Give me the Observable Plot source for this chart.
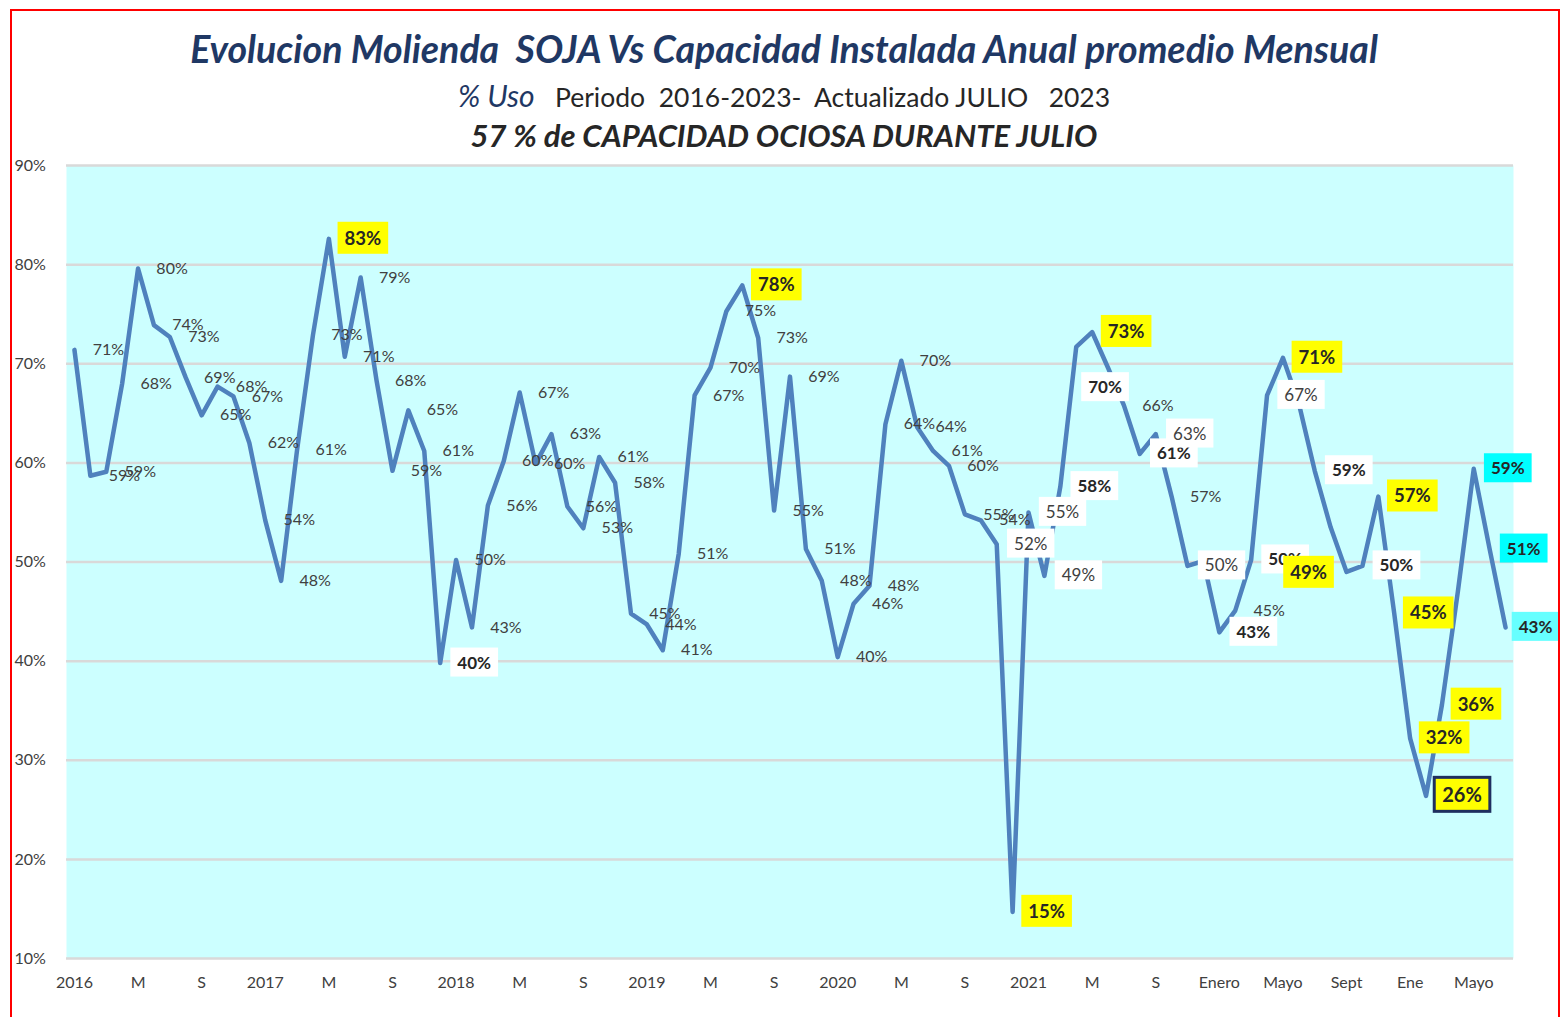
<!DOCTYPE html>
<html><head><meta charset="utf-8">
<script src="https://cdn.jsdelivr.net/npm/d3@7"></script>
<script src="https://cdn.jsdelivr.net/npm/@observablehq/plot@0.6"></script>
<style>
html,body{margin:0;padding:0;background:#fff;}
#page{position:relative;width:1560px;height:1017px;overflow:hidden;font-family:Lato,"Open Sans",sans-serif;}
#border{position:absolute;left:10px;top:9px;width:1550px;height:1100px;border:2px solid #ff0000;box-sizing:border-box;}
.tl{position:absolute;left:10px;width:1548px;text-align:center;white-space:pre;}
#t1{top:25px;font-size:37.5px;line-height:48px;font-weight:bold;font-style:italic;color:#1f3864;}
#t2{top:76px;font-size:26.5px;line-height:38px;color:#262626;}
#t2 .u{font-style:italic;color:#1f3864;font-size:30px;}
#t3{top:115px;font-size:31px;line-height:40px;font-weight:bold;font-style:italic;color:#262626;}
#chart{position:absolute;left:0;top:150px;}
</style></head>
<body>
<div id="page">
  <div class="tl" id="t1">Evolucion Molienda  SOJA Vs Capacidad Instalada Anual promedio Mensual</div>
  <div class="tl" id="t2"><span class="u">% Uso</span>   Periodo  2016-2023-  Actualizado JULIO   2023</div>
  <div class="tl" id="t3">57 % de CAPACIDAD OCIOSA DURANTE JULIO</div>
  <div id="chart"></div>
  <div id="border"></div>
</div>
<script>
// Monthly soybean crushing as % of installed capacity, Jan 2016 .. Jul 2023 (index 0..90)
const usage = [
  71.4, 58.7, 59.1, 68.0, 79.6, 73.9, 72.7, 68.6, 64.8, 67.7, 66.7, 62.0, // 2016
  54.2, 48.1, 61.3, 72.9, 82.6, 70.7, 78.7, 68.3, 59.2, 65.3, 61.2, 39.8, // 2017
  50.2, 43.4, 55.7, 60.2, 67.1, 59.9, 62.9, 55.6, 53.4, 60.6, 58.0, 44.8, // 2018
  43.7, 41.1, 50.8, 66.8, 69.6, 75.3, 77.9, 72.6, 55.2, 68.7, 51.3, 48.1, // 2019
  40.4, 45.8, 47.6, 63.9, 70.3, 63.6, 61.2, 59.7, 54.8, 54.2, 51.8, 14.7, // 2020
  55.0, 48.6, 57.6, 71.7, 73.2, 69.6, 65.8, 60.9, 62.9, 56.6, 49.6, 50.1, // 2021
  42.9, 45.1, 50.2, 66.8, 70.6, 66.0, 59.2, 53.5, 49.0, 49.6, 56.6, 44.8, // 2022
  32.2, 26.4, 35.6, 47.0, 59.4, 51.3, 43.4                                // 2023
];
const tickIdx = [0,4,8,12,16,20,24,28,32,36,40,44,48,52,56,60,64,68,72,76,80,84,88];
const tickLabels = ["2016","M","S","2017","M","S","2018","M","S","2019","M","S","2020","M","S","2021","M","S","Enero","Mayo","Sept","Ene","Mayo"];
const yTicks = [10,20,30,40,50,60,70,80,90];

// label styling groups (by month index)
const hiddenLabels = [63,71,77,79,87];
const yellowLabels = [16,42,59,64,76,82,83,84,86];
const yellowFramed = [85];
const whiteBold = [23,62,67,72,74,78,81];
const whitePlain = [58,60,61,68,70,75];
const cyanLabels = [88,89];
const cyanLight = [90];
const movedLabels = {65:{dx:-3,dy:20}, 80:{dx:-38,dy:1}};

const data = usage.map((v,i)=>({i, v, label: Math.round(v)+"%"}));
const special = new Set([...hiddenLabels,...yellowLabels,...yellowFramed,...whiteBold,...whitePlain,...cyanLabels,...cyanLight,...Object.keys(movedLabels).map(Number)]);
const pick = arr => data.filter(d=>arr.includes(d.i));

const DX = 34;
const txt = (rows, opts) => Plot.text(rows, {x:"i", y:"v", text:"label", dx:DX, fontSize:16, fill:"#404040", ...opts});

const marks = [
  Plot.frame({fill:"#ccffff", stroke:"none"}),
  Plot.gridY({ticks:yTicks, stroke:"#d9d9d9", strokeOpacity:1, strokeWidth:2.5}),
  Plot.line(data, {x:"i", y:"v", stroke:"#4f81bd", strokeWidth:4.5, strokeLinejoin:"round", strokeLinecap:"round"}),
  txt(data.filter(d=>!special.has(d.i)), {}),
  txt(pick(whiteBold), {fontWeight:"bold", fontSize:17, fill:"#262626", ariaDescription:"lbl-whitebold"}),
  txt(pick([65]), {fontWeight:"bold", fontSize:17, fill:"#262626", dx:movedLabels[65].dx, dy:movedLabels[65].dy, ariaDescription:"lbl-whitebold"}),
  txt(pick(whitePlain), {fontSize:17, ariaDescription:"lbl-white"}),
  txt(pick(yellowLabels), {fontWeight:"bold", fontSize:18.5, fill:"#262626", ariaDescription:"lbl-yellow"}),
  txt(pick([80]), {fontWeight:"bold", fontSize:18.5, fill:"#262626", dx:movedLabels[80].dx, dy:movedLabels[80].dy, ariaDescription:"lbl-yellow"}),
  txt(pick(yellowFramed), {fontWeight:"bold", fontSize:20, fill:"#262626", dx:DX+2, ariaDescription:"lbl-yellowframed"}),
  txt(pick(cyanLabels), {fontWeight:"bold", fontSize:17, fill:"#262626", ariaDescription:"lbl-cyan"}),
  txt(pick(cyanLight), {fontWeight:"bold", fontSize:17, fill:"#262626", dx:DX-4, ariaDescription:"lbl-cyanlight"}),
  Plot.axisX({ticks:tickIdx, tickFormat:d=>tickLabels[tickIdx.indexOf(d)], tickSize:0, tickPadding:18, fontSize:16}),
  Plot.axisY({ticks:yTicks, tickFormat:d=>d+"%", tickSize:0, tickPadding:0, textAnchor:"start", dx:-52, fontSize:16})
];

const chart = Plot.plot({
  width:1560, height:858,
  marginTop:15, marginBottom:50, marginLeft:66, marginRight:47,
  style:{fontFamily:"Lato, 'Open Sans', sans-serif", color:"#404040", background:"transparent", overflow:"visible"},
  x:{type:"linear", domain:[-0.5,90.5], label:null},
  y:{type:"linear", domain:[10,90], label:null},
  marks
});
document.getElementById("chart").appendChild(chart);

function addBoxes(label, fill, stroke, sw, px, py){
  chart.querySelectorAll(`g[aria-description="${label}"] text`).forEach(t=>{
    const b = t.getBBox();
    const r = document.createElementNS("http://www.w3.org/2000/svg","rect");
    r.setAttribute("x", b.x-px); r.setAttribute("y", b.y-py);
    r.setAttribute("width", b.width+2*px); r.setAttribute("height", b.height+2*py);
    r.setAttribute("fill", fill);
    if (stroke){ r.setAttribute("stroke", stroke); r.setAttribute("stroke-width", sw); }
    const tr = t.getAttribute("transform"); if (tr) r.setAttribute("transform", tr);
    t.parentNode.insertBefore(r, t);
  });
}
function decorate(){
  addBoxes("lbl-white", "#ffffff", null, 0, 7, 4);
  addBoxes("lbl-whitebold", "#ffffff", null, 0, 7, 4);
  addBoxes("lbl-yellow", "#ffff00", null, 0, 7, 5);
  addBoxes("lbl-yellowframed", "#ffff00", "#1f2f5f", 3, 8, 5);
  addBoxes("lbl-cyan", "#00ffff", null, 0, 7, 4);
  addBoxes("lbl-cyanlight", "#66ffff", null, 0, 7, 4);
}
decorate();
</script>
</body></html>
